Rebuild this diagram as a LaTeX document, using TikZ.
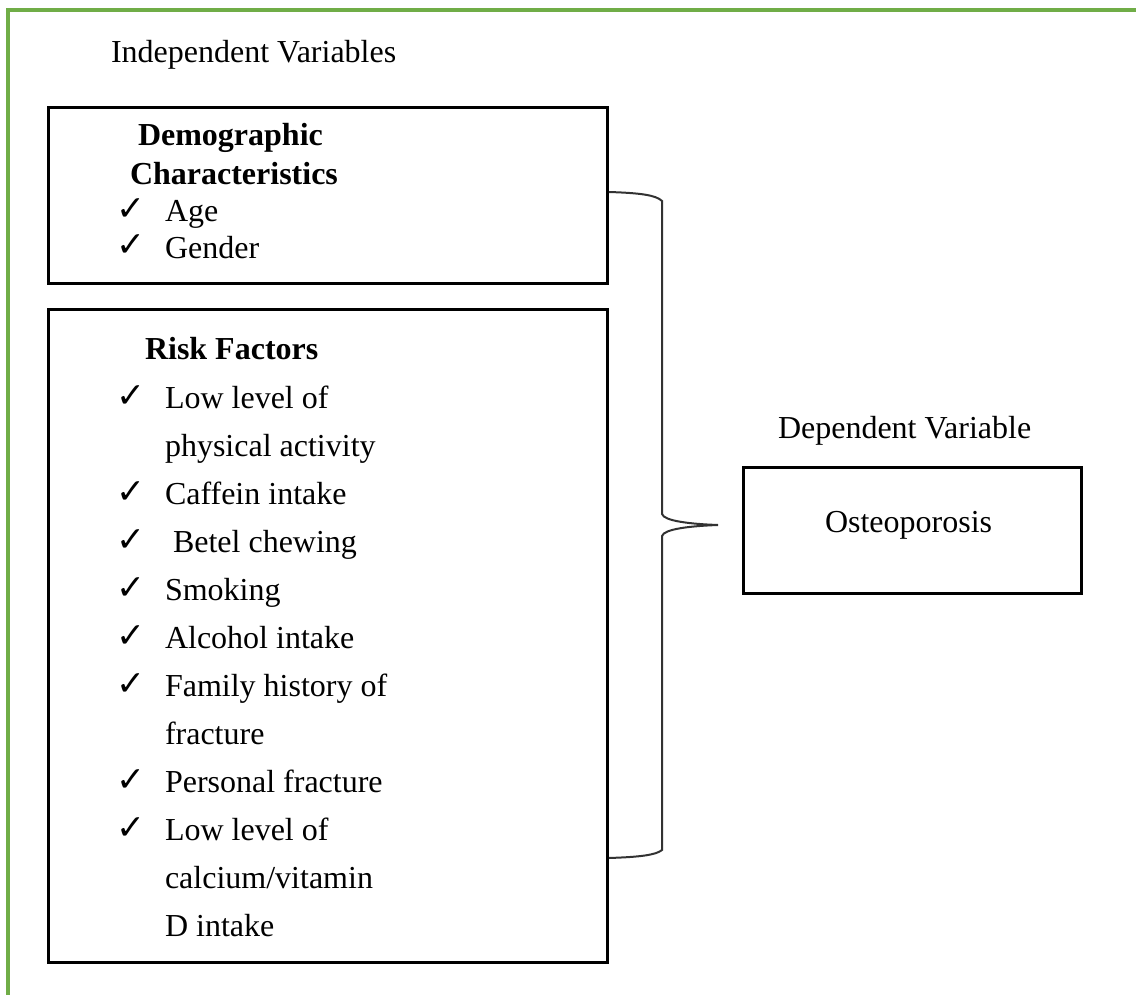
\documentclass[tikz,border=0pt]{standalone}
\usepackage{fontspec}
\setmainfont{Liberation Serif}
\newfontfamily\symfont{DejaVu Sans}
\definecolor{framegreen}{RGB}{112,173,71}
\definecolor{bracegray}{RGB}{50,50,50}
\begin{document}
\begin{tikzpicture}[x=0.375pt,y=-0.375pt,
  boxstyle/.style={draw=black,line width=1.1pt},
  txt/.style={anchor=base west,inner sep=0pt,outer sep=0pt,font=\fontsize{12pt}{14pt}\selectfont},
  bold/.style={txt,font=\fontsize{12pt}{14pt}\selectfont\bfseries},
  chk/.style={anchor=base west,inner sep=0pt,outer sep=0pt,font=\symfont\fontsize{13pt}{15pt}\selectfont},
  bracestyle/.style={draw=bracegray,line width=0.75pt},
  framestyle/.style={draw=framegreen,line width=1.2pt}]
\useasboundingbox (0,0) rectangle (1136,995);
% frame
\coordinate (fa) at (8,995);
\coordinate (fb) at (8,10);
\coordinate (fc) at (1136,10);
\draw[framestyle] (fa) -- (fb) -- (fc);
% labels
\node[txt] (iv) at (111,63) {Independent Variables};
\node[txt] (dv) at (778,438) {Dependent Variable};
% boxes
\node[boxstyle,rectangle,minimum width=559*0.375pt,minimum height=176*0.375pt,anchor=north west,inner sep=0pt] (demo) at (47,106) {};
\node[boxstyle,rectangle,minimum width=559*0.375pt,minimum height=653*0.375pt,anchor=north west,inner sep=0pt] (risk) at (47,308) {};
\node[boxstyle,rectangle,minimum width=338*0.375pt,minimum height=126*0.375pt,anchor=north west,inner sep=0pt] (osteo) at (742,466) {};
\node[txt] (osteot) at (825,532) {Osteoporosis};
% demographic box text
\node[bold] (d1) at (138,146) {Demographic};
\node[bold] (d2) at (130,185) {Characteristics};
\node[chk] (c1) at (116,221) {✓};
\node[txt] (d3) at (165,222) {Age};
\node[chk] (c2) at (116,257) {✓};
\node[txt] (d4) at (165,258) {Gender};
% risk factors text
\node[bold] (r0) at (145,360) {Risk Factors};
\node[chk] (k1) at (116,407) {✓};
\node[txt] (r1) at (165,408) {Low level of};
\node[txt] (r2) at (165,456) {physical activity};
\node[chk] (k2) at (116,503) {✓};
\node[txt] (r3) at (165,504) {Caffein intake};
\node[chk] (k3) at (116,551) {✓};
\node[txt] (r4) at (173,552) {Betel chewing};
\node[chk] (k4) at (116,599) {✓};
\node[txt] (r5) at (165,600) {Smoking};
\node[chk] (k5) at (116,647) {✓};
\node[txt] (r6) at (165,648) {Alcohol intake};
\node[chk] (k6) at (116,695) {✓};
\node[txt] (r7) at (165,696) {Family history of};
\node[txt] (r8) at (165,744) {fracture};
\node[chk] (k7) at (116,791) {✓};
\node[txt] (r9) at (165,792) {Personal fracture};
\node[chk] (k8) at (116,839) {✓};
\node[txt] (r10) at (165,840) {Low level of};
\node[txt] (r11) at (165,888) {calcium/vitamin};
\node[txt] (r12) at (165,936) {D intake};
% brace
\coordinate (btop) at (demo.east |- 0,192);
\coordinate (bbot) at (risk.east |- 0,858);
\coordinate (btip) at (718,525);
\draw[bracestyle] (btop) .. controls (640,193) and (656,195) .. (662,201)
  -- (662,514) .. controls (664,521) and (690,524) .. (btip)
  .. controls (690,526) and (664,529) .. (662,536)
  -- (662,850) .. controls (656,855) and (640,857) .. (bbot);
\end{tikzpicture}
\end{document}
